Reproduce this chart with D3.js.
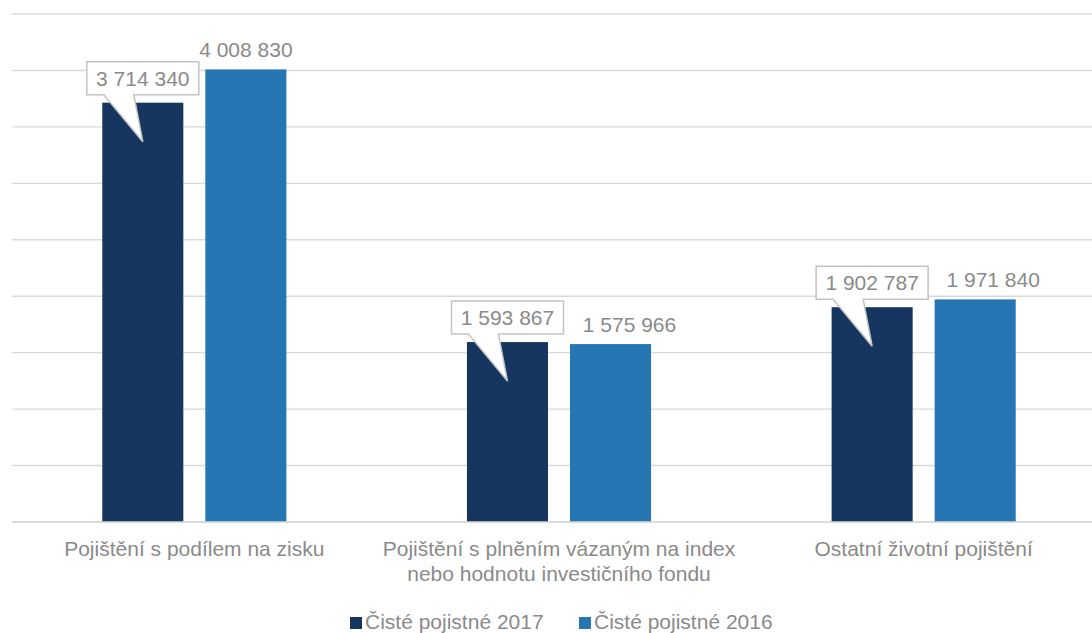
<!DOCTYPE html>
<html>
<head>
<meta charset="utf-8">
<script src="https://cdn.jsdelivr.net/npm/d3@7"></script>
<style>
  html, body { margin: 0; padding: 0; background: #fff; }
  svg { display: block; font-family: "Liberation Sans", Arial, sans-serif; }
</style>
</head>
<body>
<div id="chart"></div>
<script>
const categories = [
  ["Pojištění s podílem na zisku"],
  ["Pojištění s plněním vázaným na index", "nebo hodnotu investičního fondu"],
  ["Ostatní životní pojištění"],
];
const seriesNames = ["Čisté pojistné 2017", "Čisté pojistné 2016"];
const values2017 = [3714340, 1593867, 1902787];
const values2016 = [4008830, 1575966, 1971840];
const yTicks = [0, 500000, 1000000, 1500000, 2000000, 2500000, 3000000, 3500000, 4000000, 4500000];

(function draw() {
  const width = 1092, height = 633;
  const colors = ["#16365f", "#2576b3"];
  const textColor = "#8a8a8a";
  const fontSize = "21px";
  const fmt = (v) => d3.format(",")(v).replace(/,/g, " ");
  // labels of the 2016 bars are nudged right where the callout is close
  const labelShift = [0, 19, 18];

  const svg = d3.select("#chart").append("svg")
    .attr("width", width).attr("height", height);

  const catKeys = categories.map((c, i) => i);
  const x0 = d3.scaleBand().domain(catKeys).range([12, 1106]);
  const x1 = d3.scaleBand().domain([0, 1])
    .range([0, x0.bandwidth()])
    .paddingInner(0.2136).paddingOuter(0.876);
  const y = d3.scaleLinear().domain([0, 4500000]).range([522, 14]);

  // gridlines
  svg.append("g").selectAll("line").data(yTicks).join("line")
    .attr("x1", 12).attr("x2", width)
    .attr("y1", (d) => y(d)).attr("y2", (d) => y(d))
    .attr("stroke", "#d9d9d9").attr("stroke-width", 1.4);

  const data = catKeys.map((i) => [values2017[i], values2016[i]]);

  const groups = svg.append("g").selectAll("g").data(data).join("g")
    .attr("transform", (d, i) => `translate(${x0(i)},0)`);

  groups.selectAll("rect").data((d) => d).join("rect")
    .attr("x", (d, j) => x1(j))
    .attr("y", (d) => y(d))
    .attr("width", x1.bandwidth())
    .attr("height", (d) => y(0) - y(d))
    .attr("fill", (d, j) => colors[j]);

  // baseline
  svg.append("line")
    .attr("x1", 12).attr("x2", width)
    .attr("y1", y(0)).attr("y2", y(0))
    .attr("stroke", "#d9d9d9").attr("stroke-width", 1.6);

  // plain labels for 2016
  groups.append("text")
    .attr("x", (d, i) => x1(1) + x1.bandwidth() / 2 + labelShift[i])
    .attr("y", (d) => y(d[1]) - 12)
    .attr("text-anchor", "middle")
    .attr("font-size", fontSize)
    .attr("fill", textColor)
    .text((d) => fmt(d[1]));

  // callout labels for 2017
  const callout = groups.append("g").attr("class", "callout");
  callout.append("path")
    .attr("d", (d) => {
      const cx = x1(0) + x1.bandwidth() / 2;
      const top = y(d[0]);
      const bottom = top - 8, boxTop = bottom - 33;
      const left = cx - 56, right = cx + 56;
      return `M${left},${boxTop}H${right}V${bottom}H${cx - 9}L${cx},${top + 39}L${cx - 39},${bottom}H${left}Z`;
    })
    .attr("fill", "#fff")
    .attr("stroke", "#c4c4c4")
    .attr("stroke-width", 1.5);
  callout.append("text")
    .attr("x", x1(0) + x1.bandwidth() / 2)
    .attr("y", (d) => y(d[0]) - 17)
    .attr("text-anchor", "middle")
    .attr("font-size", fontSize)
    .attr("fill", textColor)
    .text((d) => fmt(d[0]));

  // category labels
  svg.append("g").selectAll("text").data(categories).join("text")
    .attr("x", (d, i) => x0(i) + x0.bandwidth() / 2)
    .attr("y", 556)
    .attr("text-anchor", "middle")
    .attr("font-size", fontSize)
    .attr("fill", textColor)
    .selectAll("tspan").data((d) => d).join("tspan")
    .attr("x", function () { return this.parentNode.getAttribute("x"); })
    .attr("dy", (d, k) => (k === 0 ? 0 : 25))
    .text((d) => d);

  // legend
  const legendX = [350, 579];
  const legend = svg.append("g").selectAll("g").data(seriesNames).join("g")
    .attr("transform", (d, i) => `translate(${legendX[i]},617)`);
  legend.append("rect")
    .attr("width", 12).attr("height", 12)
    .attr("fill", (d, i) => colors[i]);
  legend.append("text")
    .attr("x", 15).attr("y", 12)
    .attr("font-size", fontSize)
    .attr("fill", textColor)
    .text((d) => d);
})();
</script>
</body>
</html>
